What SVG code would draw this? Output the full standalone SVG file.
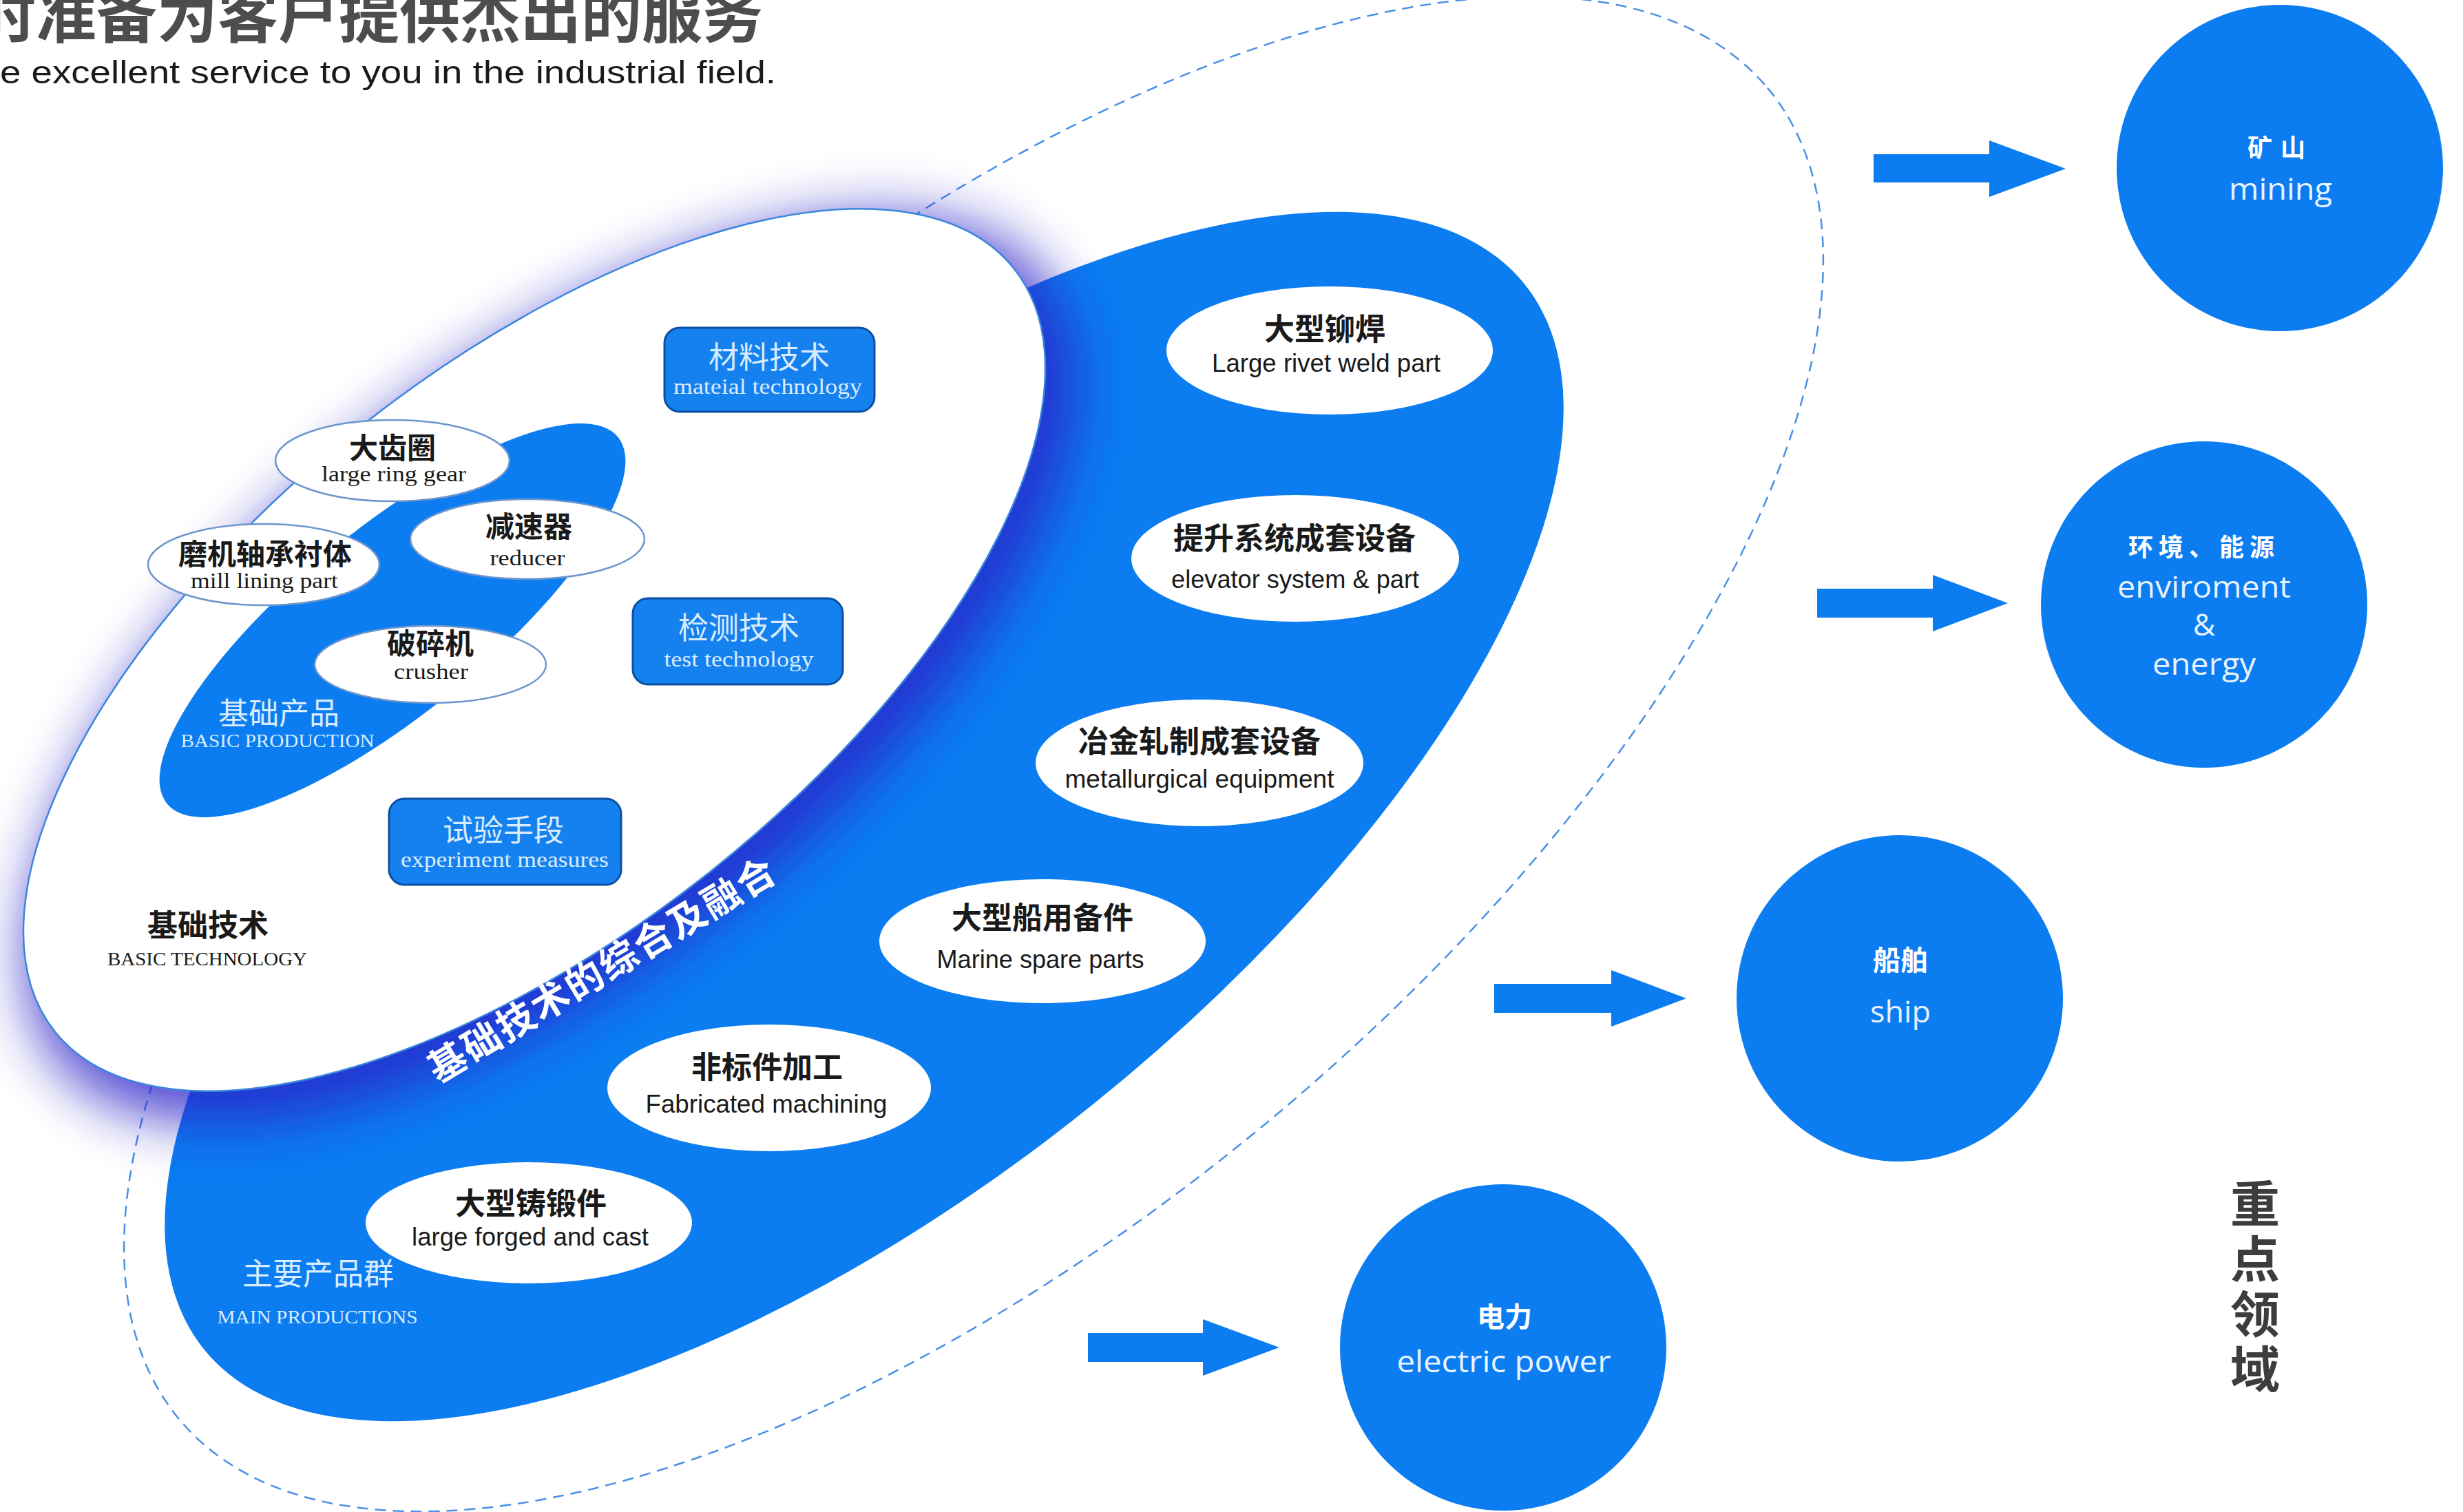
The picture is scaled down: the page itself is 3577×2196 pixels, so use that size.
<svg xmlns="http://www.w3.org/2000/svg" width="3577" height="2196" viewBox="0 0 3577 2196">
<defs>
<filter id="glow" x="-30%" y="-30%" width="160%" height="160%"><feGaussianBlur stdDeviation="40"/></filter>
<style>
.cn{font-family:"Noto Sans CJK SC","Noto Sans",sans-serif;}
.cnb{font-family:"Noto Sans CJK SC","Noto Sans",sans-serif;font-weight:700;}
.sans{font-family:"Liberation Sans",Arial,sans-serif;}
.serif{font-family:"Liberation Serif","Times New Roman",serif;}
.open{font-family:"Open Sans","Noto Sans",sans-serif;}
.blue{fill:#0b7df1;}
.pe{fill:#ffffff;}
.be{fill:#ffffff;stroke:#6b95cc;stroke-width:2.5;}
.box{fill:#1581ef;stroke:#0d4fa3;stroke-width:3;}
.dk{fill:#1a1a1a;}
.lt{fill:#d9ecff;}
.wt{fill:#ffffff;}
.cnl{font-size:44px;font-weight:700;}
.enl{font-size:37px;}
.bcn{font-size:42px;font-weight:700;}
.ben{font-size:31px;}
</style>
</defs>
<rect width="3577" height="2196" fill="#ffffff"/>

<g id="title">
<text x="-36" y="54" class="cnb" font-size="88" fill="#4d4d4d">时准备为客户提供杰出的服务</text>
<text x="0" y="121" class="sans" font-size="47" fill="#1a1a1a" textLength="1127" lengthAdjust="spacingAndGlyphs">e excellent service to you in the industrial field.</text>
</g>

<g id="outer-dashed">
<ellipse cx="1414" cy="1095" rx="1505" ry="684" transform="rotate(-40 1414 1095)" fill="none" stroke="#4a90e6" stroke-width="2.5" stroke-dasharray="16 10"/>
</g>

<g id="main-productions">
<ellipse cx="1255" cy="1186" rx="1232" ry="534" transform="rotate(-38.9 1255 1186)" class="blue"/>
<text x="462" y="1866" class="cn lt" font-size="44" text-anchor="middle">主要产品群</text>
<text x="461" y="1922" class="serif lt" font-size="28" text-anchor="middle" textLength="291" lengthAdjust="spacingAndGlyphs">MAIN PRODUCTIONS</text>
</g>

<g id="basic-technology">
<ellipse cx="800" cy="972" rx="915" ry="430" transform="rotate(-38.5 800 972)" fill="#2a22c8" opacity="0.8" filter="url(#glow)"/>
<ellipse cx="776" cy="944" rx="890" ry="411" transform="rotate(-38.5 776 944)" fill="#ffffff" stroke="#3a86dc" stroke-width="2.5"/>
<text x="302" y="1360" class="cn dk" font-size="44" font-weight="700" text-anchor="middle">基础技术</text>
<text x="301" y="1402" class="serif dk" font-size="28" text-anchor="middle" textLength="290" lengthAdjust="spacingAndGlyphs">BASIC TECHNOLOGY</text>
</g>

<g id="fusion-label">
<text x="885" y="1425" class="cnb wt" font-size="55" letter-spacing="3" text-anchor="middle" transform="rotate(-31 885 1425)">基础技术的综合及融合</text>
</g>

<g id="basic-production">
<ellipse cx="570" cy="901" rx="422" ry="135" transform="rotate(-39.1 570 901)" class="blue"/>
<text x="405" y="1052" class="cn lt" font-size="44" text-anchor="middle">基础产品</text>
<text x="403" y="1085" class="serif lt" font-size="28" text-anchor="middle" textLength="281" lengthAdjust="spacingAndGlyphs">BASIC PRODUCTION</text>
</g>

<g id="node-ring-gear">
<ellipse cx="570" cy="669" rx="170" ry="59" class="be"/>
<text x="570" y="666" class="cn dk bcn" text-anchor="middle">大齿圈</text>
<text x="572" y="699" class="serif dk ben" text-anchor="middle" textLength="210" lengthAdjust="spacingAndGlyphs">large ring gear</text>
</g>
<g id="node-reducer">
<ellipse cx="766" cy="783" rx="170" ry="58" class="be"/>
<text x="768" y="780" class="cn dk bcn" text-anchor="middle">减速器</text>
<text x="766" y="821" class="serif dk ben" text-anchor="middle" textLength="109" lengthAdjust="spacingAndGlyphs">reducer</text>
</g>
<g id="node-mill-lining">
<ellipse cx="383" cy="820" rx="168" ry="59" class="be"/>
<text x="385" y="820" class="cn dk bcn" text-anchor="middle">磨机轴承衬体</text>
<text x="384" y="854" class="serif dk ben" text-anchor="middle" textLength="214" lengthAdjust="spacingAndGlyphs">mill lining part</text>
</g>
<g id="node-crusher">
<ellipse cx="625" cy="965" rx="168" ry="56" class="be"/>
<text x="625" y="950" class="cn dk bcn" text-anchor="middle">破碎机</text>
<text x="626" y="986" class="serif dk ben" text-anchor="middle" textLength="108" lengthAdjust="spacingAndGlyphs">crusher</text>
</g>

<g id="box-material">
<rect x="965" y="476" width="305" height="122" rx="22" class="box"/>
<text x="1117" y="535" class="cn lt" font-size="44" text-anchor="middle">材料技术</text>
<text x="1115" y="572" class="serif lt" font-size="32" text-anchor="middle" textLength="274" lengthAdjust="spacingAndGlyphs">mateial technology</text>
</g>
<g id="box-test">
<rect x="919" y="869" width="305" height="125" rx="22" class="box"/>
<text x="1073" y="928" class="cn lt" font-size="44" text-anchor="middle">检测技术</text>
<text x="1073" y="968" class="serif lt" font-size="32" text-anchor="middle" textLength="217" lengthAdjust="spacingAndGlyphs">test technology</text>
</g>
<g id="box-experiment">
<rect x="565" y="1160" width="337" height="125" rx="22" class="box"/>
<text x="731" y="1222" class="cn lt" font-size="44" text-anchor="middle">试验手段</text>
<text x="733" y="1259" class="serif lt" font-size="32" text-anchor="middle" textLength="302" lengthAdjust="spacingAndGlyphs">experiment measures</text>
</g>

<g id="node-rivet-weld">
<ellipse cx="1931" cy="509" rx="237" ry="93" class="pe"/>
<text x="1924" y="494" class="cn dk cnl" text-anchor="middle">大型铆焊</text>
<text x="1926" y="540" class="sans dk enl" text-anchor="middle" textLength="332" lengthAdjust="spacingAndGlyphs">Large rivet weld part</text>
</g>
<g id="node-elevator">
<ellipse cx="1881" cy="811" rx="238" ry="92" class="pe"/>
<text x="1880" y="798" class="cn dk cnl" text-anchor="middle">提升系统成套设备</text>
<text x="1881" y="854" class="sans dk enl" text-anchor="middle" textLength="360" lengthAdjust="spacingAndGlyphs">elevator system &amp; part</text>
</g>
<g id="node-metallurgical">
<ellipse cx="1742" cy="1108" rx="238" ry="92" class="pe"/>
<text x="1742" y="1093" class="cn dk cnl" text-anchor="middle">冶金轧制成套设备</text>
<text x="1742" y="1144" class="sans dk enl" text-anchor="middle" textLength="391" lengthAdjust="spacingAndGlyphs">metallurgical equipment</text>
</g>
<g id="node-marine">
<ellipse cx="1514" cy="1367" rx="237" ry="90" class="pe"/>
<text x="1514" y="1349" class="cn dk cnl" text-anchor="middle">大型船用备件</text>
<text x="1511" y="1406" class="sans dk enl" text-anchor="middle" textLength="301" lengthAdjust="spacingAndGlyphs">Marine spare parts</text>
</g>
<g id="node-fabricated">
<ellipse cx="1117" cy="1580" rx="235" ry="92" class="pe"/>
<text x="1114" y="1566" class="cn dk cnl" text-anchor="middle">非标件加工</text>
<text x="1113" y="1616" class="sans dk enl" text-anchor="middle" textLength="351" lengthAdjust="spacingAndGlyphs">Fabricated machining</text>
</g>
<g id="node-forged">
<ellipse cx="768" cy="1776" rx="237" ry="88" class="pe"/>
<text x="771" y="1764" class="cn dk cnl" text-anchor="middle">大型铸锻件</text>
<text x="770" y="1809" class="sans dk enl" text-anchor="middle" textLength="344" lengthAdjust="spacingAndGlyphs">large forged and cast</text>
</g>

<g id="connectors" class="blue">
<polygon points="2721,224 2889,224 2889,204 3000,245 2889,286 2889,265 2721,265"/>
<polygon points="2639,855 2807,855 2807,835 2916,876 2807,917 2807,897 2639,897"/>
<polygon points="2170,1429 2340,1429 2340,1409 2449,1450 2340,1491 2340,1471 2170,1471"/>
<polygon points="1580,1936 1747,1936 1747,1916 1858,1957 1747,1998 1747,1978 1580,1978"/>
</g>

<g id="field-mining">
<circle cx="3311" cy="244" r="237" class="blue"/>
<text x="3312" y="228" class="cnb wt" font-size="36" letter-spacing="12" text-anchor="middle">矿山</text>
<text x="3312" y="290" class="open" fill="#e8f3ff" font-size="44" text-anchor="middle" textLength="150" lengthAdjust="spacingAndGlyphs">mining</text>
</g>
<g id="field-environment">
<circle cx="3201" cy="878" r="237" class="blue"/>
<text x="3201" y="808" class="cnb wt" font-size="36" letter-spacing="8" text-anchor="middle">环境、能源</text>
<text x="3201" y="868" class="open" fill="#e8f3ff" font-size="44" text-anchor="middle" textLength="252" lengthAdjust="spacingAndGlyphs">enviroment</text>
<text x="3201" y="923" class="open" fill="#e8f3ff" font-size="44" text-anchor="middle">&amp;</text>
<text x="3201" y="980" class="open" fill="#e8f3ff" font-size="44" text-anchor="middle" textLength="150" lengthAdjust="spacingAndGlyphs">energy</text>
</g>
<g id="field-ship">
<circle cx="2759" cy="1450" r="237" class="blue"/>
<text x="2760" y="1409" class="cnb wt" font-size="40" text-anchor="middle">船舶</text>
<text x="2760" y="1485" class="open" fill="#e8f3ff" font-size="44" text-anchor="middle" textLength="88" lengthAdjust="spacingAndGlyphs">ship</text>
</g>
<g id="field-electric">
<circle cx="2183" cy="1957" r="237" class="blue"/>
<text x="2185" y="1927" class="cnb wt" font-size="40" text-anchor="middle">电力</text>
<text x="2184" y="1993" class="open" fill="#e8f3ff" font-size="44" text-anchor="middle" textLength="311" lengthAdjust="spacingAndGlyphs">electric power</text>
</g>

<g id="key-fields">
<text x="3275" y="1712" class="cnb" fill="#3d3d3d" font-size="72" letter-spacing="8" writing-mode="vertical-rl" style="writing-mode:vertical-rl">重点领域</text>
</g>
</svg>
